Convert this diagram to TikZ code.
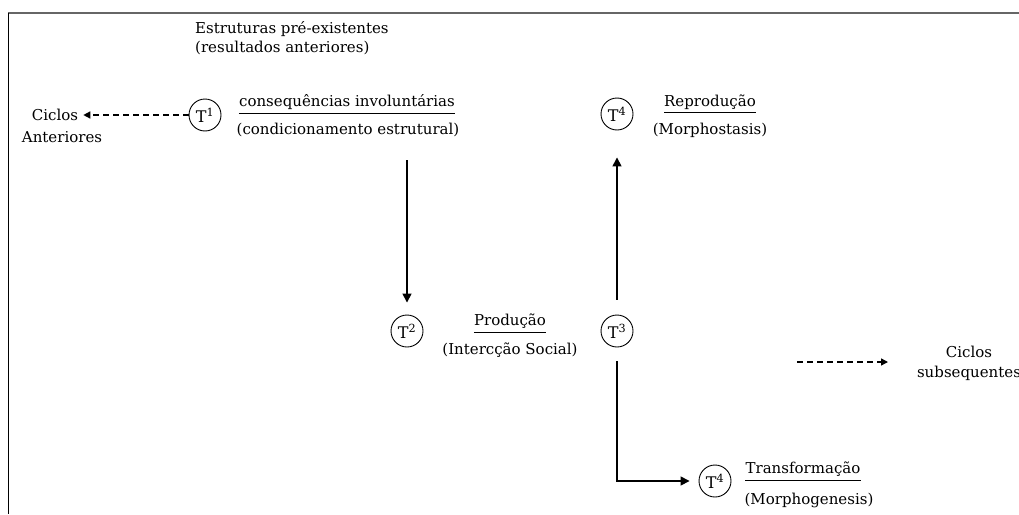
\documentclass[tikz,border=0pt]{standalone}
\usepackage{fontspec}
\setmainfont{DejaVu Serif}
\usetikzlibrary{arrows.meta}
\begin{document}
\begin{tikzpicture}[x=1pt,y=-1pt,
  txt/.style={font=\fontsize{15}{18}\selectfont,inner sep=0pt,anchor=base},
  stage/.style={draw,circle,minimum size=32pt,inner sep=0pt,line width=0.9pt,
    font=\fontsize{16}{18}\selectfont},
  flow/.style={line width=1.5pt,-{Triangle[length=9pt,width=9pt]}},
  cycle/.style={line width=1.4pt,dash pattern=on 6pt off 4pt,-{Triangle[length=7pt,width=7pt]}},
  fracrule/.style={line width=0.9pt}
]
\useasboundingbox (0,0) rectangle (1019,514);
% frame edges
\draw[line width=1.5pt,gray!80!black] (8,13) -- (1019,13);
\draw[line width=1pt] (8,13) -- (8,514);

% heading
\node[txt,anchor=base west] (pre1) at (195,33) {Estruturas pré-existentes};
\node[txt,anchor=base west] (pre2) at (195,52) {(resultados anteriores)};

% stage T1
\node[stage] (t1) at (205,115) {T\textsuperscript{1}};
\node[txt] (c1) at (347,106) {consequências involuntárias};
\draw[fracrule] (c1.west |- 0,113) -- (c1.east |- 0,113);
\node[txt] (c1b) at (348,134) {(condicionamento estrutural)};

% previous cycles
\node[txt] (ca1) at (55,120) {Ciclos};
\node[txt] (ca2) at (62,142) {Anteriores};
\draw[cycle] (t1.west) -- ([xshift=5pt]ca1.east |- t1.west);

% stage T2
\node[stage] (t2) at (407,331) {T\textsuperscript{2}};
\coordinate (dstart) at (407,160);
\draw[flow] (dstart) -- ([yshift=12pt]t2.north);

% production
\node[txt] (c2) at (510,325) {Produção};
\draw[fracrule] (c2.west |- 0,332) -- (c2.east |- 0,332);
\node[txt] (c2b) at (510,354) {(Intercção Social)};

% stage T3
\node[stage] (t3) at (617,331) {T\textsuperscript{3}};

% reproduction
\node[stage] (t4a) at (617,114) {T\textsuperscript{4}};
\node[txt] (c3) at (710,106) {Reprodução};
\draw[fracrule] (c3.west |- 0,112) -- (c3.east |- 0,112);
\node[txt] (c3b) at (710,134) {(Morphostasis)};
\draw[flow] ([yshift=15pt]t3.north) -- ([yshift=-27pt]t4a.south);

% transformation
\node[stage] (t4b) at (715,481) {T\textsuperscript{4}};
\node[txt] (c4) at (803,473) {Transformação};
\draw[fracrule] (c4.west |- 0,480) -- (c4.east |- 0,480);
\node[txt] (c4b) at (809,504) {(Morphogenesis)};
\coordinate (corner) at (617,481);
\draw[flow] ([yshift=-14pt]t3.south) -- (corner) -- ([xshift=-9pt]t4b.west);

% subsequent cycles
\node[txt] (cs1) at (969,357) {Ciclos};
\node[txt] (cs2) at (969,377) {subsequentes};
\coordinate (sstart) at (797,362);
\coordinate (send) at (888,362);
\draw[cycle] (sstart) -- (send);
\end{tikzpicture}
\end{document}
